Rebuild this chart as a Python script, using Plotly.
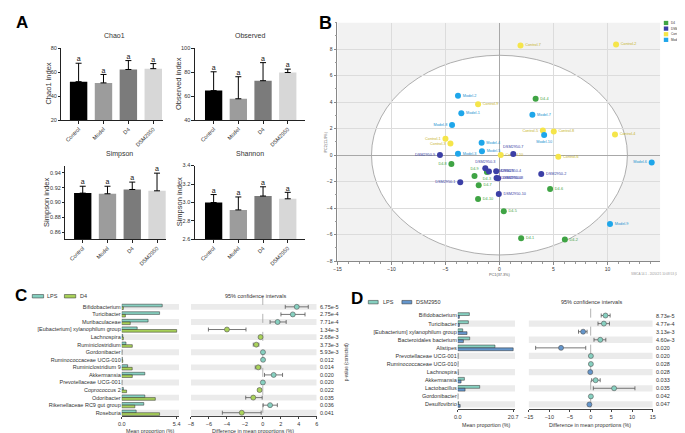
import plotly.graph_objects as go

W, H = 685, 433
FONT = "Liberation Sans, Arial, sans-serif"

# ---------------- Panel A data ----------------
groups = ["Control", "Model", "D4", "DSM2950"]
chao1_mean = [52.2, 51.2, 62.3, 63.0]
chao1_err_top = [67.5, 58.2, 69.7, 67.2]
observed_mean = [64.8, 58.0, 73.0, 79.8]
observed_err_top = [80.4, 76.3, 88.0, 82.6]
simpson_mean = [0.9127, 0.9118, 0.9176, 0.9158]
simpson_err_top = [0.922, 0.922, 0.9276, 0.9397]
shannon_mean = [3.00, 2.92, 3.07, 3.04]
shannon_err_top = [3.086, 3.06, 3.17, 3.11]
sig_letters = ["a", "a", "a", "a"]

# ---------------- Panel B data ----------------
pca_control_labels = ["Control-1", "Control-2", "Control-3", "Control-4", "Control-5",
                      "Control-6", "Control-7", "Control-8", "Control-9", "Control-10"]
pca_control_pc1 = [-5.0, 10.8, -4.54, 10.7, 4.02, 5.45, 1.95, 5.03, -1.98, 0.12]
pca_control_pc2 = [1.24, 8.35, 0.87, 1.56, 1.85, -0.12, 8.27, 1.78, 3.83, 0.0]

pca_model_labels = ["Model-1", "Model-2", "Model-3", "Model-4", "Model-5",
                    "Model-6", "Model-7", "Model-8", "Model-9", "Model-10"]
pca_model_pc1 = [-3.53, -3.84, -3.84, -1.65, -1.62, 14.1, 3.05, -4.39, 10.24, 4.14]
pca_model_pc2 = [3.16, 4.47, 0.10, 0.94, 0.30, -0.56, 3.04, 2.27, -5.19, 1.51]

pca_d4_labels = ["D4-1", "D4-2", "D4-3", "D4-4", "D4-5",
                 "D4-6", "D4-7", "D4-8", "D4-9", "D4-10"]
pca_d4_pc1 = [2.01, 6.06, -1.16, 3.35, 0.40, 4.69, -1.92, -4.45, -2.31, -1.98]
pca_d4_pc2 = [-6.27, -6.37, -1.28, 4.25, -4.24, -2.56, -2.27, -0.67, -1.58, -3.31]

pca_dsm_labels = ["DSM2950-1", "DSM2950-2", "DSM2950-3", "DSM2950-4", "DSM2950-5",
                  "DSM2950-6", "DSM2950-7", "DSM2950-8", "DSM2950-9", "DSM2950-10"]
pca_dsm_pc1 = [-3.63, 3.87, -1.31, -0.30, -0.97, -0.27, 1.28, -0.12, -5.51, -0.06]
pca_dsm_pc2 = [-2.05, -1.43, -0.99, -1.21, -1.23, -1.73, 0.08, -1.75, 0.0, -2.93]

pca_x_ticks = [-15, -10, -5, 0, 5, 10]
pca_y_ticks = [-8, -6, -4, -2, 0, 2, 4, 6, 8]

# ---------------- Panel C data ----------------
c_taxa = ["Bifidobacterium", "Turicibacter", "Muribaculaceae", "[Eubacterium] xylanophilum group",
          "Lachnospira", "Ruminiclostridium", "Gordonibacter", "Ruminococcaceae UCG-010",
          "Ruminiclostridium 9", "Akkermansia", "Prevotellaceae UCG-001", "Coprococcus 2",
          "Odoribacter", "Rikenellaceae RC9 gut group", "Roseburia"]
c_lps = [3.98, 3.72, 2.59, 1.52, 0.10, 0.42, 0.03, 0.06, 0.58, 2.27, 0.02, 0.16, 2.27, 2.17, 1.42]
c_d4 = [0.16, 0.36, 0.84, 5.40, 0.16, 1.04, 0.02, 0.10, 1.03, 1.04, 0.01, 0.48, 3.30, 1.29, 3.72]
c_diff = [3.78, 3.34, 1.65, -3.99, -0.25, -0.73, 0.02, 0.03, -0.51, 1.21, 0.01, -0.36, -1.06, 0.81, -2.34]
c_ci_low = [2.50, 2.02, 0.81, -6.05, -0.35, -1.06, -0.02, -0.02, -0.84, 0.19, -0.01, -0.52, -1.90, 0.04, -4.50]
c_ci_high = [5.06, 4.70, 2.60, -1.87, -0.15, -0.44, 0.06, 0.08, -0.22, 2.20, 0.03, -0.20, -0.07, 1.62, -0.18]
c_pvals = ["6.75e-5", "2.75e-4", "7.71e-4", "1.34e-3", "2.68e-3", "3.73e-3", "5.93e-3", "0.012",
           "0.014", "0.020", "0.020", "0.022", "0.035", "0.036", "0.041"]
c_bar_max = 5.4
c_diff_ticks = [-8, -6, -4, -2, 0, 2, 4, 6]

# ---------------- Panel D data ----------------
d_taxa = ["Bifidobacterium", "Turicibacter", "[Eubacterium] xylanophilum group", "Bacteroidales bacterium",
          "Alistipes", "Prevotellaceae UCG-001", "Ruminococcaceae UCG-010", "Lachnospira",
          "Akkermansia", "Lactobacillus", "Gordonibacter", "Desulfovibrio"]
d_lps = [4.34, 3.97, 1.86, 4.46, 13.9, 0.10, 0.10, 0.10, 2.48, 8.20, 0.05, 0.30]
d_dsm = [0.60, 0.60, 3.47, 2.11, 20.7, 0.10, 0.05, 0.15, 1.24, 2.73, 0.02, 0.90]
d_diff = [3.58, 3.19, -1.82, 2.32, -7.16, 0.05, 0.05, -0.10, 1.19, 5.66, 0.05, -0.31]
d_ci_low = [2.55, 1.77, -2.94, 0.80, -13.3, 0.0, 0.0, -0.20, 0.24, 0.64, 0.0, -0.50]
d_ci_high = [4.70, 4.54, -0.87, 3.66, -1.19, 0.10, 0.10, 0.0, 2.30, 10.70, 0.10, -0.12]
d_pvals = ["8.73e-5", "4.77e-4", "3.13e-3", "4.60e-3", "0.020", "0.020", "0.028", "0.028",
           "0.033", "0.035", "0.042", "0.047"]
d_bar_max = 20.7
d_diff_ticks = [-15, -10, -5, 0, 5, 10, 15]

# ---------------- styling ----------------
BAR_COLORS = ["#000000", "#9c9c9c", "#7b7b7b", "#d7d7d7"]
COL_LPS = "#86d0c0"
COL_D4 = "#a9d25a"
COL_DSM = "#6496cc"
PCA_COL = {"D4": "#3fa444", "DSM2950": "#3b3fa6", "Control": "#f5e54a", "Model": "#1ea6ea"}
PCA_TXT = {"D4": "#3fa444", "DSM2950": "#3b3fa6", "Control": "#c7b42a", "Model": "#1c92d0"}
BAND = "#ebebeb"


def dx(a, b):
    return [a / W, b / W]


def dy(top, bottom):
    return [1 - bottom / H, 1 - top / H]


def PX(x):
    return x / W


def PY(y):
    return 1 - y / H


fig = go.Figure()
annotations = []
shapes = []


def ann(x, y, text, size, color="#222", bold=False, xanchor="center", yanchor="middle", angle=0, **kw):
    t = f"<b>{text}</b>" if bold else text
    d = dict(x=PX(x), y=PY(y), xref="paper", yref="paper", text=t, showarrow=False,
             font=dict(size=size, color=color, family=FONT), xanchor=xanchor, yanchor=yanchor,
             textangle=angle, borderpad=0)
    d.update(kw)
    annotations.append(d)


def axname(kind, i):
    return kind + ("" if i == 1 else str(i))


# ---------------- Panel A ----------------
alpha = [
    (1, chao1_mean, chao1_err_top, (49, 152, 37.7, 111), [-0.69, 3.4], [20, 80], [20, 40, 60, 80], "d"),
    (2, observed_mean, observed_err_top, (184, 295, 37.7, 111), [-0.76, 3.68], [40, 100], [40, 60, 80, 100], "d"),
    (3, simpson_mean, simpson_err_top, (53, 155, 156.7, 231.7), [-0.7, 3.37], [0.85, 0.95],
     [0.86, 0.88, 0.90, 0.92, 0.94], ".2f"),
    (4, shannon_mean, shannon_err_top, (184, 295, 156.7, 231.7), [-0.76, 3.68], [2.6, 3.4],
     [2.6, 2.8, 3.0, 3.2, 3.4], ".1f"),
]
for i, mean, top, (x0, x1, y0, y1), xr, yr, yt, fmt in alpha:
    xa, ya = "x" + ("" if i == 1 else str(i)), "y" + ("" if i == 1 else str(i))
    fig.add_trace(go.Bar(
        x=groups, y=mean, xaxis=xa, yaxis=ya, marker=dict(color=BAR_COLORS, line=dict(width=0)),
        error_y=dict(type="data", symmetric=False, array=[t - m for t, m in zip(top, mean)],
                     arrayminus=[0] * len(mean), color="#000", thickness=1, width=3),
        showlegend=False, hoverinfo="skip"))
    fig.add_trace(go.Scatter(
        x=groups, y=top, xaxis=xa, yaxis=ya, mode="text", text=sig_letters,
        textposition="top center", textfont=dict(size=7, color="#111", family=FONT),
        showlegend=False, cliponaxis=False, hoverinfo="skip"))
    fig.update_layout(**{
        axname("xaxis", i): dict(domain=dx(x0, x1), anchor=ya, range=xr, type="category",
                                 showline=True, linecolor="#222", linewidth=1, ticks="outside",
                                 ticklen=2.5, tickcolor="#222", tickangle=-45,
                                 tickfont=dict(size=5.5, color="#333", family=FONT),
                                 showgrid=False, zeroline=False),
        axname("yaxis", i): dict(domain=dy(y0, y1), anchor=xa, range=yr, tickvals=yt,
                                 tickformat=fmt, showline=True, linecolor="#222", linewidth=1,
                                 ticks="outside", ticklen=2.5, tickcolor="#222",
                                 tickfont=dict(size=5.5, color="#333", family=FONT),
                                 showgrid=False, zeroline=False),
    })

ann(103, 25, "Chao1", 7, "#333")
ann(240, 25, "Observed", 7, "#333")
ann(108, 145, "Simpson", 7, "#333")
ann(240, 145, "Shannon", 7, "#333")
ann(36, 74, "Chao1 index", 7.5, "#333", angle=-90)
ann(168, 74, "Observed index", 7.5, "#333", angle=-90)
ann(34, 194, "Simpson index", 7.5, "#333", angle=-90)
ann(168, 194, "Simpson index", 7.5, "#333", angle=-90)
ann(9, 12, "A", 17, "#000", bold=True)

# ---------------- Panel B ----------------
shapes.append(dict(type="rect", xref="x5", yref="y5", x0=-15, x1=14.9, y0=-8, y1=10,
                   fillcolor="#f2f2f2", line=dict(width=0), layer="below"))
shapes.append(dict(type="circle", xref="x5", yref="y5", x0=-11.85, x1=11.85, y0=-7.53, y1=7.53,
                   fillcolor="#ffffff", line=dict(color="#9a9a9a", width=0.8), layer="below"))

pca_sets = [
    ("Control", pca_control_labels, pca_control_pc1, pca_control_pc2,
     ["middle left", "middle right", "middle left", "middle right", "middle left",
      "middle right", "middle right", "middle right", "middle right", "middle right"]),
    ("Model", pca_model_labels, pca_model_pc1, pca_model_pc2,
     ["middle right", "middle right", "middle right", "middle right", "middle right",
      "middle left", "middle right", "middle left", "middle right", "bottom center"]),
    ("D4", pca_d4_labels, pca_d4_pc1, pca_d4_pc2,
     ["middle right", "middle right", "bottom center", "middle right", "middle right",
      "middle right", "middle right", "middle left", "top center", "middle right"]),
    ("DSM2950", pca_dsm_labels, pca_dsm_pc1, pca_dsm_pc2,
     ["middle left", "middle right", "top center", "middle right", "middle right",
      "middle right", "top center", "middle right", "middle left", "middle right"]),
]
for g, labels, xs, ys, pos in pca_sets:
    fig.add_trace(go.Scatter(
        x=xs, y=ys, xaxis="x5", yaxis="y5", mode="markers+text", text=labels,
        textposition=pos, textfont=dict(size=3.8, color=PCA_TXT[g], family=FONT),
        marker=dict(size=6, color=PCA_COL[g], line=dict(width=0)),
        showlegend=False, cliponaxis=False, hoverinfo="skip"))

fig.update_layout(
    xaxis5=dict(domain=dx(328.3, 655), anchor="y5", range=[-15, 14.9], tickvals=pca_x_ticks,
                showgrid=True, gridcolor="#dcdcdc", gridwidth=0.6, zeroline=True,
                zerolinecolor="#a8a8a8", zerolinewidth=1, showline=True, linecolor="#888",
                linewidth=0.8, ticks="outside", ticklen=3, tickcolor="#888",
                minor=dict(dtick=1, ticks="outside", ticklen=1.5, tickcolor="#999", showgrid=False),
                tickfont=dict(size=5, color="#333", family=FONT)),
    yaxis5=dict(domain=dy(11.7, 253.7), anchor="x5", range=[-8, 10], tickvals=pca_y_ticks,
                showgrid=True, gridcolor="#dcdcdc", gridwidth=0.6, zeroline=True,
                zerolinecolor="#a8a8a8", zerolinewidth=1, showline=True, linecolor="#888",
                linewidth=0.8, ticks="outside", ticklen=3, tickcolor="#888",
                minor=dict(dtick=1, ticks="outside", ticklen=1.5, tickcolor="#999", showgrid=False),
                tickfont=dict(size=5, color="#333", family=FONT)),
)
ann(492, 268, "PC1(37.3%)", 3.8, "#555")
ann(317, 133, "PC2(11.9%)", 3.8, "#555", angle=-90)
ann(682, 267, "SIMCA 14.1 - 2020/2/1 10:08:53 (UTC+8)", 3, "#999", xanchor="right")
ann(316, 12, "B", 18, "#000", bold=True)

legend_items = ["D4", "DSM2950", "Control", "Model"]
for k, g in enumerate(legend_items):
    yt = 10 + k * 5.7
    shapes.append(dict(type="rect", xref="paper", yref="paper", x0=PX(658.5), x1=PX(663),
                       y0=PY(yt + 4.3), y1=PY(yt), fillcolor=PCA_COL[g], line=dict(width=0)))
    ann(664.3, yt + 2.2, g, 3.1, "#333", xanchor="left")

# ---------------- Panels C & D ----------------
def diff_panel(idx_bar, idx_ci, taxa, g1, g2, diff, lo, hi, pvals, col2, bar_max, bar_rng,
               diff_rng, diff_ticks, bar_dom, ci_dom, row0, rowstep, yr_top, yr_bot, pval_x):
    n = len(taxa)
    xb, yb = f"x{idx_bar}", f"y{idx_bar}"
    xc, yc = f"x{idx_ci}", f"y{idx_ci}"
    rows = list(range(n))
    top_px = row0 + yr_top * rowstep
    bot_px = row0 + yr_bot * rowstep
    for i in rows:
        if (n - 1 - i) % 2 == 0:
            shapes.append(dict(type="rect", xref=xb, yref=yb, x0=0, x1=bar_rng[1], y0=i - 0.39,
                               y1=i + 0.39, fillcolor=BAND, line=dict(width=0), layer="below"))
            shapes.append(dict(type="rect", xref=xc, yref=yc, x0=diff_rng[0], x1=diff_rng[1],
                               y0=i - 0.39, y1=i + 0.39, fillcolor=BAND, line=dict(width=0),
                               layer="below"))
    shapes.append(dict(type="line", xref=xc, yref=yc, x0=0, x1=0, y0=yr_top + 0.15, y1=n - 0.5,
                       line=dict(color="#a0a0a0", width=0.8, dash="dash"), layer="below"))
    fig.add_trace(go.Bar(x=g1, y=rows, orientation="h", xaxis=xb, yaxis=yb,
                         marker=dict(color=COL_LPS, line=dict(color="#2a2a2a", width=0.5)),
                         showlegend=False, hoverinfo="skip"))
    fig.add_trace(go.Bar(x=g2, y=rows, orientation="h", xaxis=xb, yaxis=yb,
                         marker=dict(color=col2, line=dict(color="#2a2a2a", width=0.5)),
                         showlegend=False, hoverinfo="skip"))
    fig.add_trace(go.Scatter(
        x=diff, y=rows, xaxis=xc, yaxis=yc, mode="markers",
        marker=dict(size=5, color=[COL_LPS if v > 0 else col2 for v in diff],
                    line=dict(color="#555", width=0.6)),
        error_x=dict(type="data", symmetric=False, array=[h - v for h, v in zip(hi, diff)],
                     arrayminus=[v - l for l, v in zip(lo, diff)], color="#555",
                     thickness=0.8, width=2),
        showlegend=False, cliponaxis=False, hoverinfo="skip"))
    yopts = dict(range=[yr_bot, yr_top], showgrid=False, zeroline=False, showline=False)
    fig.update_layout(**{
        f"xaxis{idx_bar}": dict(domain=dx(*bar_dom), anchor=yb, range=bar_rng,
                                tickvals=[0, bar_max], ticktext=["0.0", f"{bar_max}"],
                                showline=True, linecolor="#444", linewidth=0.8, ticks="outside",
                                ticklen=2, tickcolor="#444", showgrid=False, zeroline=False,
                                tickfont=dict(size=5.5, color="#333", family=FONT)),
        f"yaxis{idx_bar}": dict(domain=dy(top_px, bot_px), anchor=xb, tickvals=rows, ticktext=taxa,
                                ticks="", tickfont=dict(size=5.5, color="#333", family=FONT),
                                **yopts),
        f"xaxis{idx_ci}": dict(domain=dx(*ci_dom), anchor=yc, range=diff_rng, tickvals=diff_ticks,
                               showline=True, linecolor="#444", linewidth=0.8, ticks="outside",
                               ticklen=2, tickcolor="#444", showgrid=False, zeroline=False,
                               tickfont=dict(size=5.5, color="#333", family=FONT)),
        f"yaxis{idx_ci}": dict(domain=dy(top_px, bot_px), anchor=xc, showticklabels=False, **yopts),
    })
    for i, p in zip(rows, pvals):
        annotations.append(dict(x=PX(pval_x), y=i, xref="paper", yref=yc, text=p, showarrow=False,
                                xanchor="left", yanchor="middle", borderpad=0,
                                font=dict(size=5.5, color="#333", family=FONT)))


diff_panel(6, 7, c_taxa, c_lps, c_d4, c_diff, c_ci_low, c_ci_high, c_pvals, COL_D4, c_bar_max,
           [0, 5.63], [-8, 6], c_diff_ticks, (110, 168), (180, 307.3), 300, 7.67, -1.6, 14.45, 310)
diff_panel(8, 9, d_taxa, d_lps, d_dsm, d_diff, d_ci_low, d_ci_high, d_pvals, COL_DSM, d_bar_max,
           [0, 21.4], [-15, 15], d_diff_ticks, (450, 508), (521.7, 647.3), 308.8, 8.2, -1.0, 11.6, 650)

# Panel C decorations
ann(8, 289, "C", 17, "#000", bold=True)
shapes.append(dict(type="rect", xref="paper", yref="paper", x0=PX(19.5), x1=PX(31), y0=PY(291),
                   y1=PY(287.5), fillcolor=COL_LPS, line=dict(color="#2a2a2a", width=0.5)))
ann(33.5, 289.3, "LPS", 5.5, "#333", xanchor="left")
shapes.append(dict(type="rect", xref="paper", yref="paper", x0=PX(52), x1=PX(63.5), y0=PY(291),
                   y1=PY(287.5), fillcolor=COL_D4, line=dict(color="#2a2a2a", width=0.5)))
ann(66.5, 289.3, "D4", 5.5, "#333", xanchor="left")
ann(245, 288.5, "95% confidence intervals", 5.5, "#333")
ann(139, 426.3, "Mean proportion (%)", 5.3, "#333")
ann(243, 426.3, "Difference in mean proportions (%)", 5.3, "#333")
ann(337, 356, "p-value (corrected)", 4.5, "#333", angle=-90)

# Panel D decorations
ann(348, 292, "D", 17, "#000", bold=True)
shapes.append(dict(type="rect", xref="paper", yref="paper", x0=PX(359.5), x1=PX(369.5), y0=PY(297),
                   y1=PY(293.5), fillcolor=COL_LPS, line=dict(color="#2a2a2a", width=0.5)))
ann(373, 295.3, "LPS", 5.5, "#333", xanchor="left")
shapes.append(dict(type="rect", xref="paper", yref="paper", x0=PX(393.5), x1=PX(403.5), y0=PY(297),
                   y1=PY(293.5), fillcolor=COL_DSM, line=dict(color="#2a2a2a", width=0.5)))
ann(407, 295.3, "DSM2950", 5.5, "#333", xanchor="left")
ann(585, 295, "95% confidence intervals", 5.5, "#333")
ann(479, 419.5, "Mean proportion (%)", 5.3, "#333")
ann(584, 419.5, "Difference in mean proportions (%)", 5.3, "#333")
ann(676, 360, "p-value (corrected)", 4.5, "#333", angle=-90)

fig.update_layout(
    width=W, height=H, margin=dict(l=0, r=0, t=0, b=0, pad=0),
    paper_bgcolor="#ffffff", plot_bgcolor="rgba(0,0,0,0)",
    barmode="group", bargap=0.3, bargroupgap=0.0,
    font=dict(family=FONT, size=6, color="#333"),
    showlegend=False, annotations=annotations, shapes=shapes,
)

fig.write_html("out.html")
